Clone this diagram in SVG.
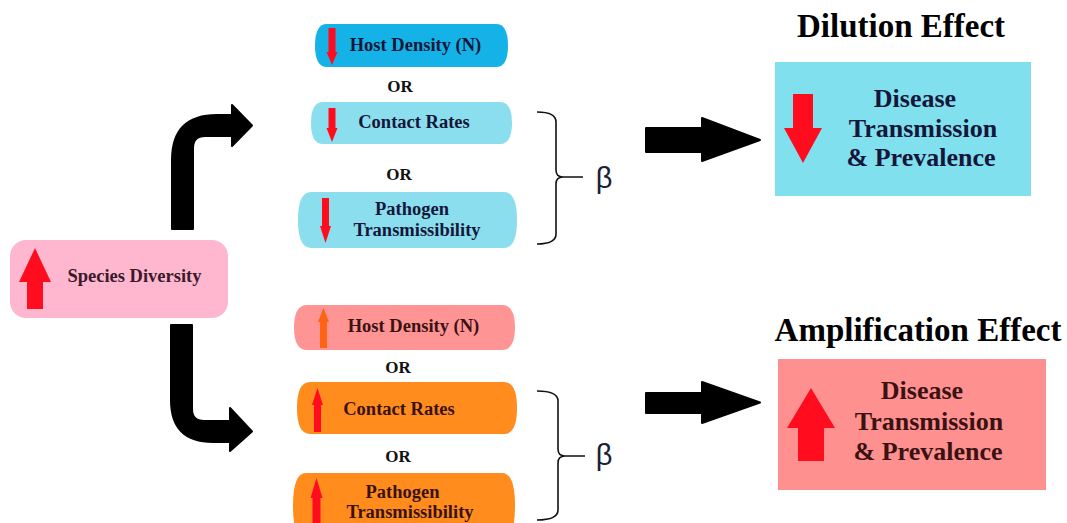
<svg xmlns="http://www.w3.org/2000/svg" width="1067" height="523" viewBox="0 0 1067 523">
<style>
.t{font-family:"Liberation Serif","Times New Roman",serif;font-weight:bold;text-anchor:middle}
.n{font-size:18.5px}
.top{fill:#15163a}
.bot{fill:#3a1212}
.or{font-size:17px;fill:#111}
.ttl{font-size:33px;fill:#000}
.big{font-size:26px}
.red{fill:#ff0d1f}
.blk{fill:#000;stroke:#000;stroke-width:2;stroke-linejoin:round}
.br{fill:none;stroke:#111;stroke-width:1.6}
.beta{font-family:"Liberation Sans",Arial,sans-serif;font-size:29px;fill:#1a2035;text-anchor:middle}
</style>
<rect width="1067" height="523" fill="#fff"/>

<g id="species-diversity">
<rect x="10" y="240" width="218" height="78" rx="16" fill="#ffb7cf"/>
<polygon class="red" points="35,248 51,282 43,282 43,309 27,309 27,282 19,282"/>
<text class="t n" x="134.5" y="282" fill="#3a1a2a">Species Diversity</text>
</g>

<g id="dilution-host-density">
<path d="M327 24H496Q508 24 508 45.5Q508 67 496 67H327Q315 67 315 45.5Q315 24 327 24Z" fill="#14b2e6"/>
<polygon class="red" points="328.5,28 335.5,28 335.5,52 337.5,52 332,65 326.5,52 328.5,52"/>
<text class="t n top" x="415.5" y="51">Host Density (N)</text>
</g>
<text class="t or" x="400" y="92">OR</text>
<g id="dilution-contact-rates">
<path d="M323 102H500Q512 102 512 123Q512 144 500 144H323Q311 144 311 123Q311 102 323 102Z" fill="#8adeed"/>
<polygon class="red" points="328.5,108 335.5,108 335.5,128 337.5,128 332,142 326.5,128 328.5,128"/>
<text class="t n top" x="414" y="128">Contact Rates</text>
</g>
<text class="t or" x="399" y="180">OR</text>
<g id="dilution-pathogen">
<path d="M311 192H504Q517 192 517 220Q517 248 504 248H311Q298 248 298 220Q298 192 311 192Z" fill="#8adeed"/>
<polygon class="red" points="322,198 329,198 329,226 331,226 325.5,243 320,226 322,226"/>
<text class="t n top" x="412" y="215">Pathogen</text>
<text class="t n top" x="417" y="236">Transmissibility</text>
</g>

<g id="amplification-host-density">
<path d="M307 305H502Q515 305 515 327.5Q515 350 502 350H307Q294 350 294 327.5Q294 305 307 305Z" fill="#ff9494"/>
<polygon points="323.5,308 329,322 327,322 327,348 320,348 320,322 318,322" fill="#ff6414"/>
<text class="t n bot" x="413.5" y="332">Host Density (N)</text>
</g>
<text class="t or" x="398" y="373">OR</text>
<g id="amplification-contact-rates">
<path d="M310 382H504Q517 382 517 408Q517 434 504 434H310Q297 434 297 408Q297 382 310 382Z" fill="#ff8c1c"/>
<polygon class="red" points="317.5,388 323,405 321,405 321,432 314,432 314,405 312,405"/>
<text class="t n bot" x="399" y="415">Contact Rates</text>
</g>
<text class="t or" x="398" y="462">OR</text>
<g id="amplification-pathogen">
<path d="M306 473H502Q515 473 515 506Q515 540 502 540H306Q293 540 293 506Q293 473 306 473Z" fill="#ff8c1c"/>
<polygon class="red" points="316.5,478 322.5,498 320.5,498 320.5,530 312.5,530 312.5,498 310.5,498"/>
<text class="t n bot" x="402.5" y="498">Pathogen</text>
<text class="t n bot" x="410" y="518">Transmissibility</text>
</g>

<g id="beta-dilution">
<path class="br" d="M537 112Q556 112 556 122V170Q556 177 563 177H583M563 177Q556 177 556 184V234Q556 244 537 244"/>
<text class="beta" x="604" y="188">β</text>
</g>
<g id="beta-amplification">
<path class="br" d="M537 391Q558 391 558 401V449Q558 456 565 456H585M565 456Q558 456 558 463V510Q558 520 537 520"/>
<text class="beta" x="604" y="465">β</text>
</g>

<g id="dilution-effect">
<text class="t ttl" x="901" y="37">Dilution Effect</text>
<rect x="775" y="62" width="256" height="134" fill="#80e0ee"/>
<polygon class="red" points="793,94 813,94 813,128 822,128 803,163 784,128 793,128"/>
<text class="t big top" x="915" y="107">Disease</text>
<text class="t big top" x="923" y="137">Transmission</text>
<text class="t big top" x="921" y="166">&amp; Prevalence</text>
</g>

<g id="amplification-effect">
<text class="t ttl" x="918" y="341">Amplification Effect</text>
<rect x="778" y="359" width="268" height="131" fill="#ff9090"/>
<polygon class="red" points="811,388 835,428 824,428 824,461 798,461 798,428 787,428"/>
<text class="t big bot" x="922" y="399">Disease</text>
<text class="t big bot" x="929" y="430">Transmission</text>
<text class="t big bot" x="928" y="460">&amp; Prevalence</text>
</g>

<g id="connectors">
<path class="blk" d="M172 229L172 160Q172 115 217 115L232 115L232 105L252 125.5L232 146L232 136L205 136Q193 136 193 148L193 229Z"/>
<path class="blk" d="M171 325L192 325L192 409Q192 421 204 421L230 421L230 408L252 431.5L230 451L230 442L213 442Q171 442 171 400Z"/>
<path class="blk" d="M646 128H702V118L760 140L702 161V152H646Z"/>
<path class="blk" d="M646 393H702V382L760 402.5L702 423V413H646Z"/>
</g>
</svg>
